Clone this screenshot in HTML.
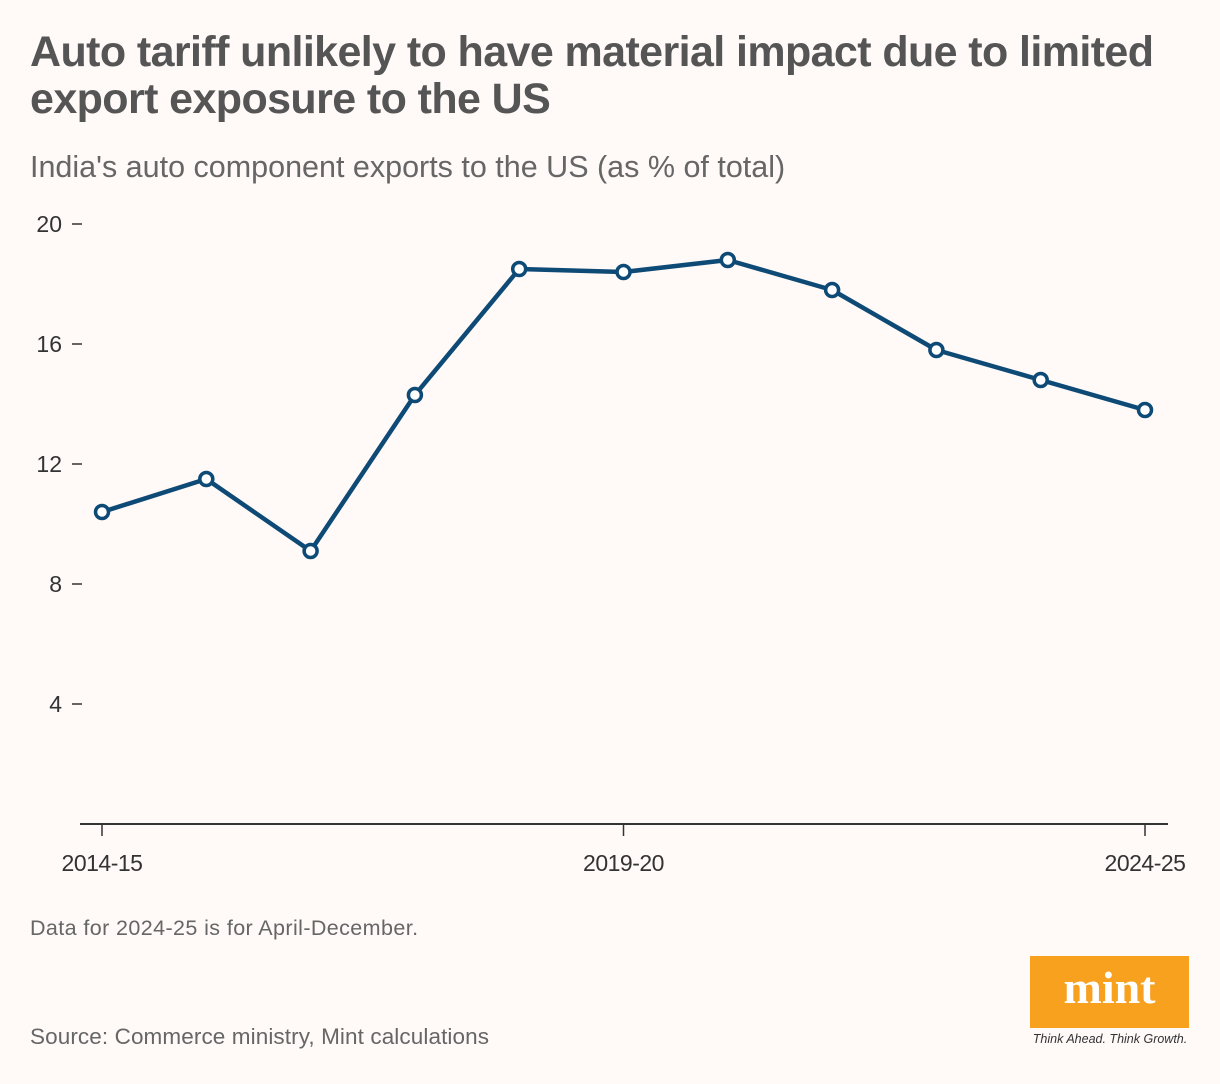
<!DOCTYPE html>
<html><head><meta charset="utf-8"><style>
body{margin:0;width:1220px;height:1084px;background:#fff9f8;font-family:"Liberation Sans",sans-serif;position:relative;overflow:hidden}
.t{position:absolute;left:30px;top:29px;font-size:43px;font-weight:bold;color:#555;line-height:47px;letter-spacing:-0.6px;margin:0;white-space:nowrap}
.s{position:absolute;left:30px;top:150px;font-size:30.5px;color:#666;letter-spacing:0px}
.n{position:absolute;left:30px;top:916px;font-size:21.5px;color:#666;letter-spacing:0.4px}
.src{position:absolute;left:30px;top:1024px;font-size:22.5px;color:#666;letter-spacing:0.1px}
.logo{position:absolute;left:1030px;top:956px;width:159px;height:72px;background:#f7a11e;color:#fff;font-family:"Liberation Serif",serif;font-weight:bold;font-size:46px;text-align:center;line-height:64px}
.tag{position:absolute;left:1028px;top:1032px;width:164px;font-size:12.5px;font-style:italic;color:#333;text-align:center}
svg{position:absolute;left:0;top:0}
</style></head><body>
<h1 class="t">Auto tariff unlikely to have material impact due to limited<br>export exposure to the US</h1>
<div class="s">India's auto component exports to the US (as % of total)</div>
<svg id="c" width="1220" height="1084"></svg>
<div class="n">Data for 2024-25 is for April-December.</div>
<div class="src">Source: Commerce ministry, Mint calculations</div>
<div class="logo">mint</div>
<div class="tag">Think Ahead. Think Growth.</div>
<script>
const categories=["2014-15","2015-16","2016-17","2017-18","2018-19","2019-20","2020-21","2021-22","2022-23","2023-24","2024-25"];
const values=[10.4,11.5,9.1,14.3,18.5,18.4,18.8,17.8,15.8,14.8,13.8];
const yTicks=[4,8,12,16,20];
const xTickLabels=["2014-15","2019-20","2024-25"];
const svg=document.getElementById('c');const NS="http://www.w3.org/2000/svg";
const x=i=>102+i*(1145-102)/(categories.length-1);
const y=v=>824-v*30;
function mk(t,a){const e=document.createElementNS(NS,t);for(const k in a)e.setAttribute(k,a[k]);svg.appendChild(e);return e;}
const ax=mk('line',{x1:80,x2:1168,y1:824,y2:824,stroke:'#333','stroke-width':2});


yTicks.forEach(v=>{
 const tl=mk('line',{x1:72,x2:82,y1:y(v),y2:y(v),stroke:'#333','stroke-width':1.5});
 
 
 const t=mk('text',{x:62,y:y(v)+8,'text-anchor':'end','font-size':23,fill:'#333','font-family':'Liberation Sans, sans-serif'});
 t.textContent=v;
 
 
});
xTickLabels.forEach(l=>{
 const i=categories.indexOf(l);
 const tl=mk('line',{x1:x(i),x2:x(i),y1:824,y2:836,stroke:'#333','stroke-width':1.5});
 
 
 const t=mk('text',{x:x(i),y:871,'text-anchor':'middle','font-size':23,fill:'#333','font-family':'Liberation Sans, sans-serif','letter-spacing':'-0.5'});
 t.textContent=l;
 
 
});
const line=mk('polyline',{points:values.map((v,i)=>x(i)+','+y(v)).join(' '),fill:'none',stroke:'#0e4a76','stroke-width':4.5,'stroke-linejoin':'round'});


values.forEach((v,i)=>{
 const c=mk('circle',{cx:x(i),cy:y(v),r:6.5,fill:'#fff',stroke:'#0e4a76','stroke-width':3.5});
 
 
});
</script>
</body></html>
